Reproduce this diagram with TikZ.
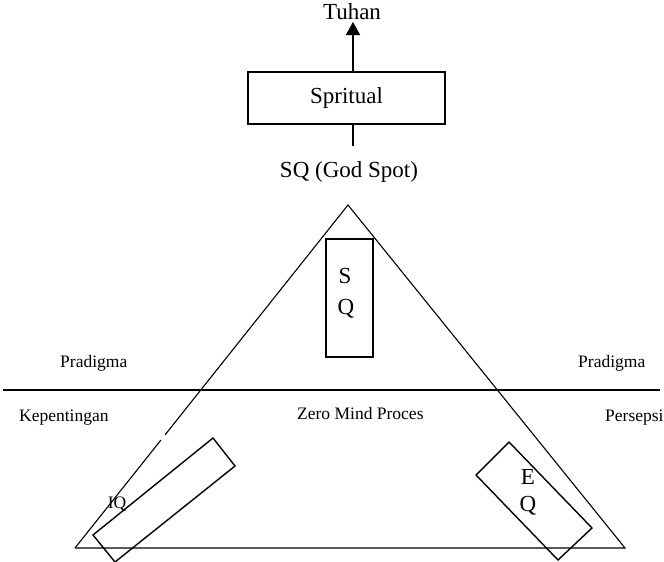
\documentclass[tikz,border=0pt]{standalone}
\usepackage{fontspec}
\setmainfont{Liberation Serif}
\usetikzlibrary{arrows.meta,calc}
\begin{document}
\begin{tikzpicture}[x=1pt,y=-1pt,
  ln/.style={draw=black,line width=1.4pt},
  thin/.style={draw=black,line width=1.1pt},
  big/.style={font=\fontsize{23}{25}\selectfont,inner sep=0pt},
  small/.style={font=\fontsize{17.5}{20}\selectfont,inner sep=0pt},
  box/.style={draw=black,line width=1.4pt,inner sep=0pt}]
\useasboundingbox (0,0) rectangle (664,562);
% top
\node[big] (tuhan) at (352,12) {Tuhan};
\node[box,minimum width=197pt,minimum height=52pt,big] (spr) at (346.5,98) {Spritual};
\coordinate (arrtop) at (353,22);
\coordinate (arrbot) at (353,72);
\draw[ln,-{Triangle[length=13pt,width=14pt]}] (arrbot) -- (arrtop);
\coordinate (st1) at (353,124);
\coordinate (st2) at (353,146);
\draw[thin] (st1) -- (st2);
\node[big] (sq) at (349,172) {SQ (God Spot)};
% triangle
\coordinate (A) at (348,205);
\coordinate (B) at (75,548);
\coordinate (C) at (625,548);
\coordinate (g1) at ($(B)!0.315!(A)$);
\coordinate (g2) at ($(B)!0.33!(A)$);
\draw[thin] (B) -- (g1);
\draw[thin] (g2) -- (A) -- (C) -- (B);
% horizontal line
\coordinate (h1) at (3,390);
\coordinate (h2) at (660,390);
\draw[ln] (h1) -- (h2);
% SQ box
\node[box,minimum width=47pt,minimum height=118pt] (sqbox) at (349.5,298) {};
\node[big] (sqS) at (345,276) {S};
\node[big] (sqQ) at (346,309) {Q};
% IQ box
\coordinate (i1) at (213,438);
\coordinate (i2) at (235,466);
\coordinate (i3) at (115,562);
\coordinate (i4) at (93,535);
\draw[ln] (i1) -- (i2) -- (i3) -- (i4) -- cycle;
\node[small] (iq) at (117,504) {IQ};
% EQ box
\coordinate (e1) at (509,442);
\coordinate (e2) at (592,528);
\coordinate (e3) at (558,560);
\coordinate (e4) at (476,475);
\draw[ln] (e1) -- (e2) -- (e3) -- (e4) -- cycle;
\node[big] (eqE) at (528,477) {E};
\node[big] (eqQ) at (528,506) {Q};
% labels
\node[small,anchor=west] (p1) at (60,363) {Pradigma};
\node[small,anchor=west] (p2) at (578,363) {Pradigma};
\node[small,anchor=west] (kep) at (19,418) {Kepentingan};
\node[small,anchor=west] (zero) at (297,414) {Zero Mind Proces};
\node[small,anchor=west] (pers) at (605,418) {Persepsi};
\end{tikzpicture}
\end{document}
